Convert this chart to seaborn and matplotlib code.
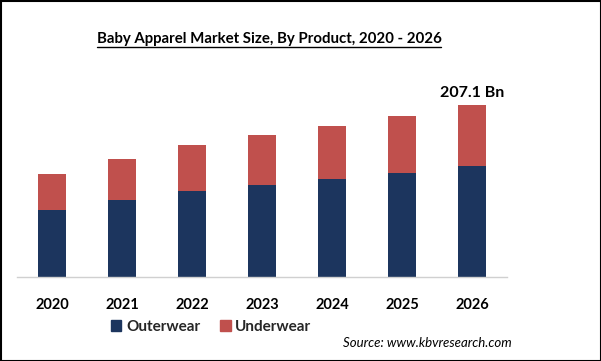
import matplotlib
matplotlib.use("Agg")
import matplotlib.pyplot as plt
import seaborn as sns
import pandas as pd
from matplotlib.lines import Line2D
from matplotlib.patches import Rectangle

years = ["2020", "2021", "2022", "2023", "2024", "2025", "2026"]
outerwear = [80.7, 92.7, 103.5, 110.8, 118.0, 125.2, 134.0]
underwear = [43.3, 49.3, 55.5, 60.2, 63.8, 68.6, 73.1]
totals = [o + u for o, u in zip(outerwear, underwear)]
label_2026 = "207.1 Bn"

navy = "#1C355E"
red = "#C0504D"

sns.set_theme(style="white")
plt.rcParams["font.family"] = ["Lato", "DejaVu Sans"]

fig = plt.figure(figsize=(6.01, 3.61), dpi=100)
ax = fig.add_axes([17/601, 1-277/361, (507-17)/601, (277-70)/361])

df = pd.DataFrame({"year": years, "total": totals, "outer": outerwear})
sns.barplot(data=df, x="year", y="total", color=red, width=0.4, ax=ax, saturation=1, linewidth=0)
sns.barplot(data=df, x="year", y="outer", color=navy, width=0.4, ax=ax, saturation=1, linewidth=0)

ax.set_xlim(-0.5, 6.5)
ax.set_ylim(0, 249)
ax.set_xlabel("")
ax.set_ylabel("")
ax.set_yticks([])
for s in ["top", "right", "left"]:
    ax.spines[s].set_visible(False)
ax.spines["bottom"].set_color("#D0D0D0")
ax.spines["bottom"].set_linewidth(1)
ax.tick_params(axis="x", length=0, pad=15)
for t in ax.get_xticklabels():
    t.set_fontweight("bold")
    t.set_fontsize(10.5)
    t.set_color("black")

ax.text(6, totals[-1] + 5.5, label_2026, ha="center", va="bottom",
        fontsize=11.5, fontweight="bold", color="black")

fig.text(269/601, 1-39/361, "Baby Apparel Market Size, By Product, 2020 - 2026",
         ha="center", va="center", fontsize=10.8, fontweight="bold", color="black")
title_obj = fig.texts[-1]
fig.canvas.draw()
bb = title_obj.get_window_extent()
fig.add_artist(Line2D([bb.x0/601, bb.x1/601], [(bb.y0-0.5)/361, (bb.y0-0.5)/361],
                      color="black", lw=1, transform=fig.transFigure))

handles = [Rectangle((0, 0), 1, 1, color=navy), Rectangle((0, 0), 1, 1, color=red)]
fig.legend(handles, ["Outerwear", "Underwear"], loc="center", bbox_to_anchor=(211/601, 1-327/361),
           ncol=2, frameon=False, handlelength=0.7, handleheight=0.7, handletextpad=0.3,
           columnspacing=1.3, prop={"weight": "bold", "size": 11})

fig.text(512/601, 1-343/361, "Source: www.kbvresearch.com", ha="right", va="center",
         fontsize=9.5, style="italic", color="black")

fig.add_artist(Rectangle((0.5/601, 0.5/361), 1-1/601, 1-1/361, fill=False,
                         edgecolor="black", lw=1.5, transform=fig.transFigure))

fig.savefig("out.png", dpi=100)
